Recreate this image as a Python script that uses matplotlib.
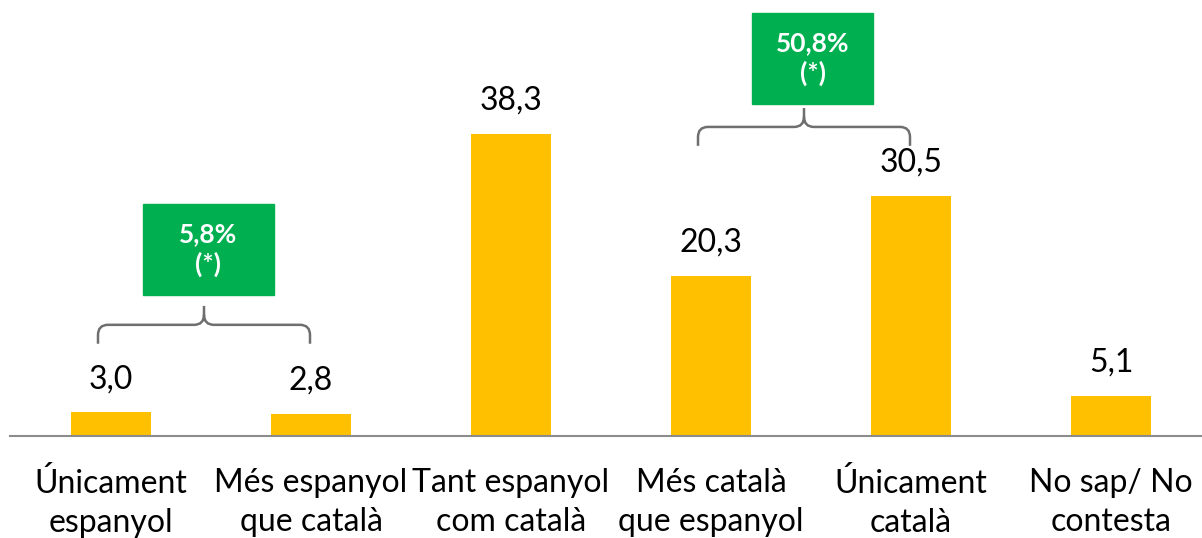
import matplotlib.pyplot as plt
from matplotlib.path import Path
from matplotlib.patches import PathPatch, Rectangle

categories = ["Únicament\nespanyol", "Més espanyol\nque català", "Tant espanyol\ncom català",
              "Més català\nque espanyol", "Únicament\ncatalà", "No sap/ No\ncontesta"]
values = [3.0, 2.8, 38.3, 20.3, 30.5, 5.1]
groups = [(0, 1, "5,8%\n(*)"), (3, 4, "50,8%\n(*)")]
title = "espanyol, 2019 (%)"

plt.rcParams['font.family'] = ['Lato', 'DejaVu Sans']

fig = plt.figure(figsize=(12.02, 5.38), dpi=100)
ax = fig.add_axes([10 / 1202, 102 / 538, 1192 / 1202, 436 / 538])
x = list(range(len(values)))
ax.bar(x, values, width=0.4, color='#FFC000', zorder=2)
for xi, v in zip(x, values):
    ax.text(xi, v + 4.2, f"{v:.1f}".replace('.', ','), ha='center', va='center', fontsize=23)

ax.set_xlim(-0.505, 5.455)
ax.set_ylim(0, 55.3)
ax.set_xticks(x)
ax.set_xticklabels(categories, fontsize=23, linespacing=1.36)
ax.tick_params(axis='x', length=0, pad=23)
ax.set_yticks([])
for s in ['top', 'right', 'left']:
    ax.spines[s].set_visible(False)
ax.spines['bottom'].set_color('#8c8c8c')
ax.spines['bottom'].set_linewidth(1.5)


def brace(x0, x1, ybot, ymid, ytip, rx=0.05, ry=1.3):
    xc = (x0 + x1) / 2
    verts = [(x0, ybot), (x0, ymid - ry), (x0, ymid), (x0 + rx, ymid),
             (xc - rx, ymid), (xc, ymid), (xc, ymid + ry), (xc, ytip),
             (xc, ymid + ry), (xc, ymid), (xc + rx, ymid),
             (x1 - rx, ymid), (x1, ymid), (x1, ymid - ry), (x1, ybot)]
    codes = [Path.MOVETO, Path.LINETO, Path.CURVE3, Path.CURVE3,
             Path.LINETO, Path.CURVE3, Path.CURVE3, Path.LINETO,
             Path.MOVETO, Path.CURVE3, Path.CURVE3,
             Path.LINETO, Path.CURVE3, Path.CURVE3, Path.LINETO]
    ax.add_patch(PathPatch(Path(verts, codes), fill=False, edgecolor='#6f6f6f', lw=1.8))


# brace base above the taller bar, box width, box bottom, box x shift
layout = [(8.7, 0.655, 17.9, 0.02), (6.3, 0.605, 42.1, 0.045)]
for (a, b, label), (gap, bw, ybox, dx) in zip(groups, layout):
    base = max(values[a], values[b]) + gap
    x0, x1 = a - 0.065, b - 0.005
    brace(x0, x1, base, base + 2.4, base + 4.8)
    xc = (x0 + x1) / 2 + dx
    bh = 11.5
    ax.add_patch(Rectangle((xc - bw / 2, ybox), bw, bh, color='#00B050', zorder=3))
    ax.text(xc, ybox + bh / 2, label, ha='center', va='center', color='white',
            fontsize=19, fontweight='bold', linespacing=1.25, zorder=4)

fig.text(0.5, 1 + 5 / 538, title, ha='center', va='baseline', fontsize=20, fontweight='bold')

fig.savefig('out.png', dpi=100)
